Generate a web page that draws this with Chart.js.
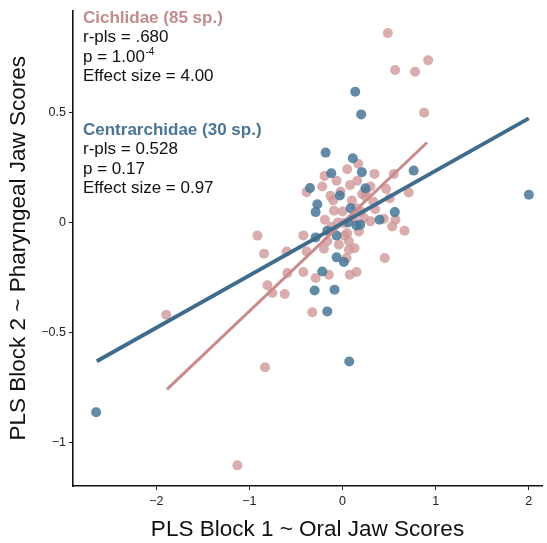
<!DOCTYPE html>
<html>
<head>
<meta charset="utf-8">
<script src="https://cdn.jsdelivr.net/npm/chart.js@4/dist/chart.umd.min.js"></script>
<style>
  html, body { margin: 0; padding: 0; background: #fff; }
  #wrap { width: 547px; height: 543px; }
</style>
</head>
<body>
<div id="wrap"><canvas id="plsChart" width="547" height="543"></canvas></div>
<script>
// PLS block scores (x = oral jaw, y = pharyngeal jaw)
const cichlidX = [0.486, 0.565, 0.779, 0.919, 0.876,
  0.168, 0.05, 0.343, 0.55, -0.193, -0.064, 0.158, -0.218, -0.386, -0.021, 0.30, 0.468, 0.711,
  -0.129, 0.246, 0.507, 0.329, -0.093, 0.15, -0.19, 0.30, 0.443, 0.568, 0.533, 0.665,
  -0.914, -0.421, -0.386, -0.164, -0.04, 0.068, 0.068, 0.129, 0.05, 0.175, 0.014,
  -0.843, -0.60, 0.043, 0.453, -0.593, -0.421, -0.289, -0.147, 0.078, 0.15,
  -0.807, -0.753, -0.622, -0.325, -1.894, -0.833, -1.129, 0.211, 0.228,
  0.0, 0.1, -0.05, 0.2, 0.12, -0.12, 0.25, 0.02, -0.2, 0.35, 0.08, -0.1];
const cichlidY = [0.862, 0.694, 0.686, 0.738, 0.50,
  0.267, 0.242, 0.221, 0.221, 0.212, 0.19, 0.19, 0.164, 0.138, 0.141, 0.164, 0.153, 0.136,
  0.121, 0.118, 0.11, 0.095, 0.053, 0.065, 0.012, 0.005, 0.017, 0.012, -0.018, -0.038,
  -0.06, -0.059, -0.132, -0.086, -0.101, -0.086, -0.124, -0.117, -0.049, -0.041, -0.003,
  -0.142, -0.132, -0.162, -0.162, -0.23, -0.226, -0.253, -0.238, -0.238, -0.226,
  -0.286, -0.321, -0.326, -0.409, -0.42, -0.659, -1.106, 0.129, 0.02,
  0.05, 0.1, 0.0, 0.05, 0.02, -0.02, 0.14, -0.06, -0.12, 0.06, 0.17, 0.1];

const centrarchidX = [0.136, 0.20, -0.182, 0.11, 0.207, -0.121, 0.764, -0.35, 0.246, -0.029,
  -0.271, -0.289, 0.086, 0.561, 0.397, 0.150, 0.19, -0.164, -0.064, -0.289,
  -0.064, 0.014, -0.218, -0.30, -0.086, -0.164, 0.072, -2.647, 2.001, 0.06];
const centrarchidY = [0.595, 0.492, 0.318, 0.292, 0.229, 0.224, 0.236, 0.157, 0.156, 0.123,
  0.083, 0.047, 0.065, 0.047, 0.012, -0.014, -0.01, -0.038, -0.06, -0.068,
  -0.159, -0.18, -0.223, -0.31, -0.306, -0.405, -0.633, -0.864, 0.126, 0.0];

// fitted PLS lines (end points)
const cichlidFitX = [-1.886, 0.908];
const cichlidFitY = [-0.76, 0.364];
const centrarchidFitX = [-2.64, 2.0];
const centrarchidFitY = [-0.632, 0.474];

const xTicks = [-2, -1, 0, 1, 2];
const yTicks = [-1, -0.5, 0, 0.5];

const cichlidStats = ['Cichlidae (85 sp.)', 'r-pls = .680', 'p = 1.00', 'Effect size = 4.00'];
const centrarchidStats = ['Centrarchidae (30 sp.)', 'r-pls = 0.528', 'p = 0.17', 'Effect size = 0.97'];

const PINK = '#c48c8c';
const BLUE = '#4a7595';
const FONT = "'Liberation Sans', Arial, sans-serif";

const pts = (xs, ys) => xs.map((x, i) => ({ x: x, y: ys[i] }));
const fmt = v => (v < 0 ? '\u2212' + Math.abs(v) : String(v));

// stats text in top-left of the plot
const statsText = {
  id: 'statsText',
  afterDatasetsDraw(chart) {
    const { ctx, chartArea } = chart;
    const x = chartArea.left + 10;
    const drawBlock = (lines, color, top, sup) => {
      ctx.save();
      ctx.textBaseline = 'middle';
      ctx.textAlign = 'left';
      lines.forEach((t, i) => {
        const y = top + i * 19.5;
        ctx.font = (i === 0 ? 'bold ' : '') + '17px ' + FONT;
        ctx.fillStyle = i === 0 ? color : '#111';
        ctx.fillText(t, x, y);
        if (i === 2 && sup) {
          const w = ctx.measureText(t).width;
          ctx.font = '10px ' + FONT;
          ctx.fillText(sup, x + w + 0.5, y - 5);
        }
      });
      ctx.restore();
    };
    drawBlock(cichlidStats, PINK, 18, '-4');
    drawBlock(centrarchidStats, BLUE, 130, null);
  }
};

new Chart(document.getElementById('plsChart'), {
  type: 'scatter',
  data: {
    datasets: [
      {
        type: 'line',
        data: pts(centrarchidFitX, centrarchidFitY),
        borderColor: '#3f6b8c',
        borderWidth: 3.8,
        pointRadius: 0,
        order: 0
      },
      {
        type: 'line',
        data: pts(cichlidFitX, cichlidFitY),
        borderColor: '#c98a8a',
        borderWidth: 3,
        pointRadius: 0,
        order: 0
      },
      {
        label: 'Centrarchidae',
        data: pts(centrarchidX, centrarchidY),
        backgroundColor: 'rgba(72, 117, 150, 0.85)',
        borderWidth: 0,
        pointRadius: 5,
        order: 1
      },
      {
        label: 'Cichlidae',
        data: pts(cichlidX, cichlidY),
        backgroundColor: 'rgba(206, 150, 150, 0.78)',
        borderWidth: 0,
        pointRadius: 5,
        order: 2
      }
    ]
  },
  options: {
    responsive: false,
    animation: false,
    layout: { padding: { top: 10, right: 0, left: 0, bottom: 0 } },
    plugins: { legend: { display: false }, tooltip: { enabled: false } },
    scales: {
      x: {
        type: 'linear',
        min: -2.895,
        max: 2.142,
        afterBuildTicks: s => { s.ticks = xTicks.map(v => ({ value: v })); },
        afterFit: s => { s.height = 57; },
        grid: { drawOnChartArea: false, drawTicks: true, tickLength: 4, color: '#222', lineWidth: 1 },
        border: { display: true, color: '#111', width: 1.6 },
        ticks: { color: '#222', font: { family: FONT, size: 12.5 }, padding: 4, callback: v => fmt(v) },
        title: { display: true, text: 'PLS Block 1 ~ Oral Jaw Scores', color: '#111', font: { family: FONT, size: 22.5 }, padding: { top: 3, bottom: 0 } }
      },
      y: {
        type: 'linear',
        min: -1.2,
        max: 0.965,
        afterBuildTicks: s => { s.ticks = yTicks.map(v => ({ value: v })); },
        afterFit: s => { s.width = 73; },
        grid: { drawOnChartArea: false, drawTicks: true, tickLength: 4, color: '#222', lineWidth: 1 },
        border: { display: true, color: '#111', width: 1.6 },
        ticks: { color: '#222', font: { family: FONT, size: 12.5 }, padding: 3, callback: v => fmt(v) },
        title: { display: true, text: 'PLS Block 2 ~ Pharyngeal Jaw Scores', color: '#111', font: { family: FONT, size: 22.5 }, padding: { top: 5, bottom: 0 } }
      }
    }
  },
  plugins: [statsText]
});
</script>
</body>
</html>
